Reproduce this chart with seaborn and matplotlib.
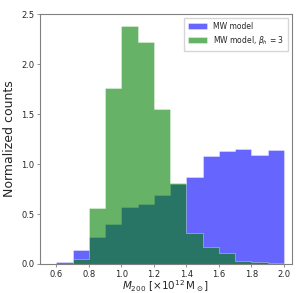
import numpy as np
import matplotlib
matplotlib.use('Agg')
import matplotlib.pyplot as plt
import seaborn as sns

# bordes de los bins (anchura 0.1)
bin_edges = [0.6, 0.7, 0.8, 0.9, 1.0, 1.1, 1.2, 1.3, 1.4, 1.5, 1.6, 1.7, 1.8, 1.9, 2.0]
bin_centers = [0.65, 0.75, 0.85, 0.95, 1.05, 1.15, 1.25, 1.35, 1.45, 1.55, 1.65, 1.75, 1.85, 1.95]

# alturas normalizadas
mw_model = [0.017, 0.14, 0.27, 0.40, 0.57, 0.60, 0.69, 0.80, 0.87, 1.08, 1.13, 1.15, 1.09, 1.14]
mw_beta3 = [0.0, 0.05, 0.56, 1.76, 2.38, 2.22, 1.55, 0.81, 0.31, 0.17, 0.11, 0.03, 0.02, 0.005]

sns.set_style('ticks')

fig = plt.figure(figsize=(2.99, 2.93), dpi=100)
ax = fig.add_axes([0.134, 0.099, 0.843, 0.853])

sns.histplot(x=bin_centers, weights=mw_model, bins=bin_edges, element='step',
             color='b', alpha=0.6, linewidth=0.6, edgecolor=(1, 1, 1, 0.4),
             label='MW model', ax=ax)
sns.histplot(x=bin_centers, weights=mw_beta3, bins=bin_edges, element='step',
             color='g', alpha=0.6, linewidth=0.6, edgecolor=(1, 1, 1, 0.4),
             label=r'MW model, $\beta_h$ = 3', ax=ax)

ax.set_xlim(0.5, 2.05)
ax.set_ylim(0, 2.5)
ax.set_xticks([0.6, 0.8, 1.0, 1.2, 1.4, 1.6, 1.8, 2.0])
ax.set_yticks([0.0, 0.5, 1.0, 1.5, 2.0, 2.5])
ax.tick_params(labelsize=6, length=2.5, width=0.6, color='gray', pad=1.5)
for s in ax.spines.values():
    s.set_color('gray')
    s.set_linewidth(0.8)

ax.set_xlabel(r'$M_{200}$ [$\times 10^{12}\,\mathrm{M}_\odot$]', fontsize=7.5)
ax.xaxis.label.set_va('top')
ax.xaxis.set_label_coords(0.5, -0.057)
ax.set_ylabel('Normalized counts', fontsize=9, labelpad=4)

ax.legend(loc='upper right', fontsize=5.5, frameon=True, handlelength=2.5,
          borderpad=0.5, labelspacing=0.4, fancybox=False)

fig.savefig('out.png', dpi=100)
